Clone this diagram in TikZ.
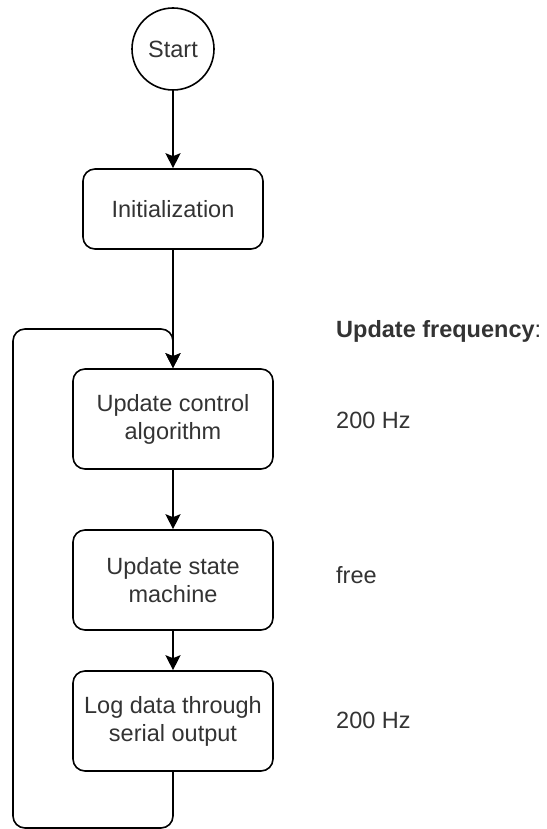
\documentclass[tikz,border=0pt]{standalone}
\usepackage{fontspec}
\setmainfont{Liberation Sans}
\usetikzlibrary{arrows.meta}
\definecolor{txt}{HTML}{333333}
\begin{document}
\begin{tikzpicture}[x=1pt,y=-1pt,
  every node/.style={font=\fontsize{23.5}{28}\selectfont, text=txt},
  procbox/.style={draw=black, line width=1.6pt, rounded corners=12pt, align=center, inner sep=0pt},
  flow/.style={line width=1.6pt, -{Stealth[length=15pt,width=15pt,inset=3pt]}},
  freq/.style={anchor=west, inner sep=0pt}]
\useasboundingbox (0,0) rectangle (546,829);
\node[draw=black, line width=1.6pt, circle, minimum size=82pt, inner sep=0pt] (start) at (173,49) {Start};
\node[procbox, minimum width=180pt, minimum height=80pt] (init) at (173,209) {Initialization};
\node[procbox, minimum width=200pt, minimum height=100pt] (ctrl) at (173,419) {Update control\\algorithm};
\node[procbox, minimum width=200pt, minimum height=100pt] (state) at (173,580) {Update state\\machine};
\node[procbox, minimum width=200pt, minimum height=100pt] (log) at (173,721) {Log data through\\serial output};
\coordinate (bl) at (13,828);
\coordinate (tl) at (13,329);
\draw[flow] (start) -- (init);
\draw[flow] (init) -- (ctrl);
\draw[flow] (ctrl) -- (state);
\draw[flow] (state) -- (log);
\draw[flow, rounded corners=12pt] (log.south) |- (bl) -- (tl) -| (ctrl.north);
\node[freq] (fhead) at (336,331) {\textbf{Update frequency}:};
\node[freq] (f1) at (336,420) {200 Hz};
\node[freq] (f2) at (336,575) {free};
\node[freq] (f3) at (336,720) {200 Hz};
\end{tikzpicture}
\end{document}
